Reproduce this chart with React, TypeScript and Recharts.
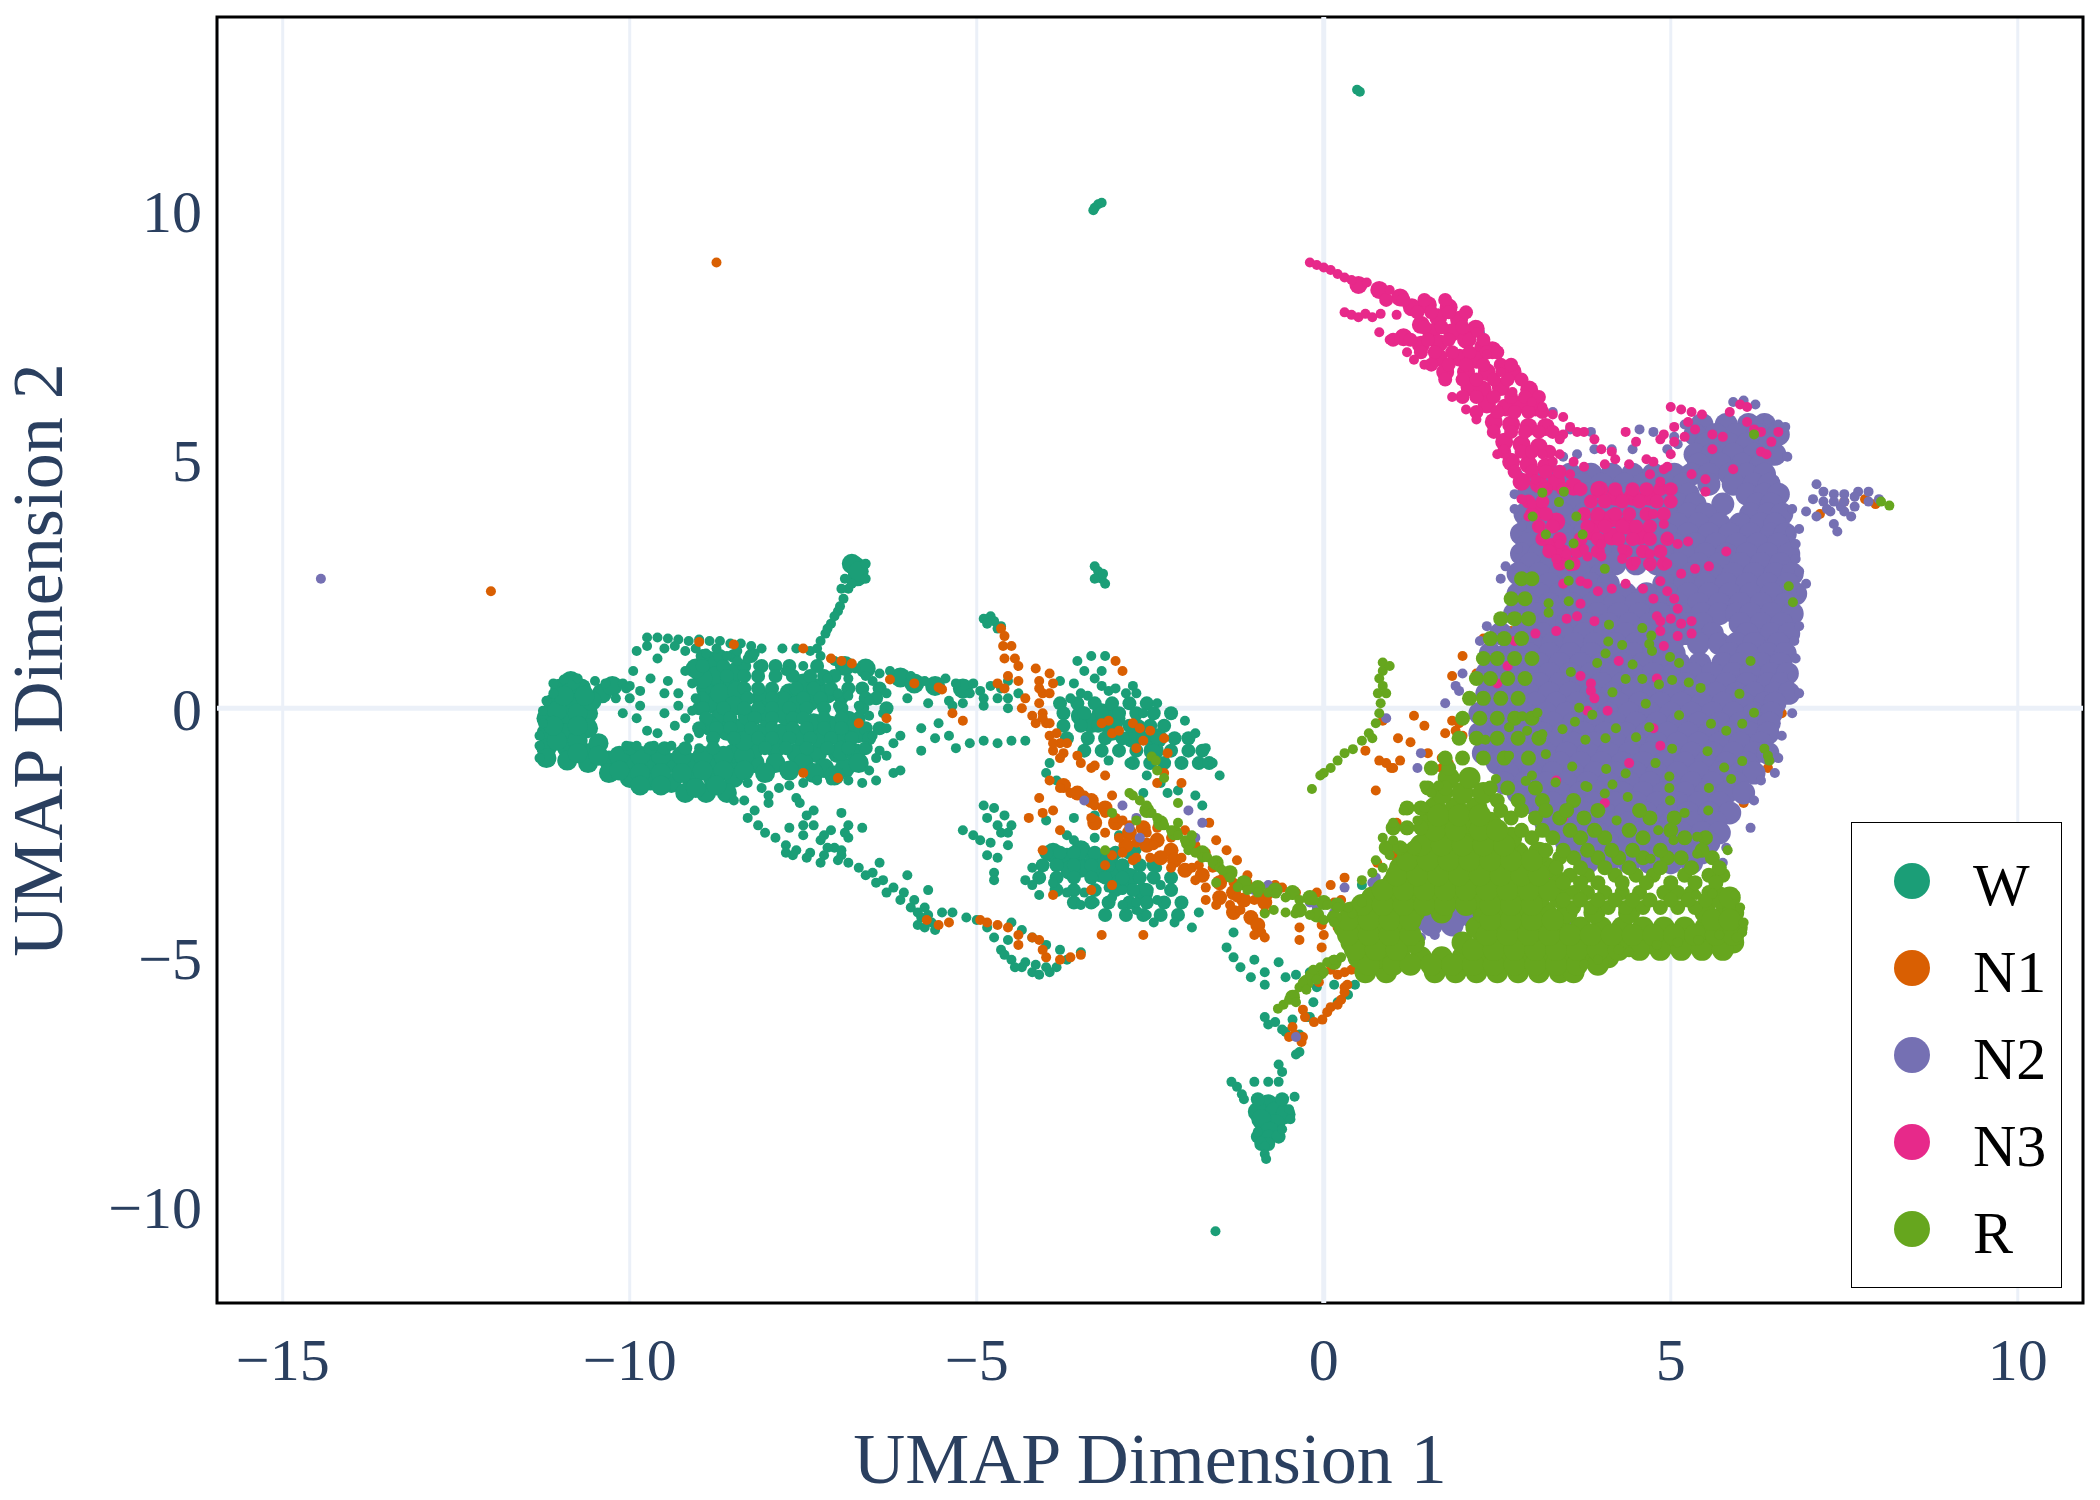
import React from 'react';
import { ScatterChart, Scatter, XAxis, YAxis, CartesianGrid, ReferenceLine, ReferenceArea } from 'recharts';

const X_TICKS = [-15, -10, -5, 0, 5, 10];
const Y_TICKS = [-10, -5, 0, 5, 10];
const STAGES = ['W', 'N1', 'N2', 'N3', 'R'];
const COLORS = ['#1b9e77', '#d95f02', '#7570b3', '#e7298a', '#66a61e'];

// Dense regions are read as clumps (drawn as wider marks), single visible dots as points.
const W_CLUMPS = [[-11,.4],[-10.7,.4],[-10.4,.3],[-11.1,.1],[-10.8,.1],[-11.2,-.2],[-10.9,-.2],[-10.6,-.1],[-11.2,-.5],[-10.9,-.5],[-10.6,-.4],[-11.2,-.8],[-10.9,-.8],[-10.6,-.9],[-11.2,-1],[-10.9,-1.05],[-10.6,-1.1],[-10.3,-1.05],[-10,-1.1],[-9.7,-1.1],[-9.4,-1.1],[-9.1,-1.1],[-8.8,-1.1],[-8.5,-1.1],[-8.2,-1.1],[-10.3,-1.3],[-10,-1.4],[-9.7,-1.45],[-9.4,-1.5],[-9.1,-1.45],[-8.8,-1.4],[-8.5,-1.4],[-9.2,-1.7],[-8.9,-1.7],[-8.6,-1.7],[-8.8,.8],[-8.7,.5],[-8.9,.4],[-8.6,.2],[-8.8,.1],[-8.7,-.2],[-8.4,-.4],[-8.1,-.5],[-8,-.2],[-7.9,.1],[-8.1,.2],[-7.8,-.5],[-8.2,-.8],[-7.9,-.8],[-7.6,-.9],[-7.3,-.9],[-7,-.9],[-6.9,-.6],[-7.5,-1.1],[-7.2,-1.2],[-6.9,-1.2],[-7.9,-1.1],[-6.7,-.5],[-7.7,.3],[-7.5,.5],[-7.3,.4],[-8.5,-.9],[-6.75,2.85],[-6.72,2.65],[-6.8,2.9],[-6.7,2.75],[-3.5,-.15],[-3.2,-.1],[-3,-.2],[-2.7,-.4],[-2.4,-.6],[-3.7,-3],[-3.5,-3.2],[-3.2,-3.3],[-3.5,-2.85],[-3.9,-2.9],[-3.1,-3],[-2.8,-3.4],[-2.6,-3.7],[-.8,-7.95],[-.95,-8.1],[-.7,-8.1],[-.55,-8.15],[-.85,-8.35],[-.7,-8.35],[-.9,-8.25],[-.78,-8.5],[-6.1,.62],[-5.9,.5],[-5.6,.45],[-5.2,.4],[-6.6,.8],[-6.9,.85],
[-11.05,-.65],[-10.75,-.65],[-10.45,-.7],[-11.05,-.05],[-10.75,-.1],[-10.55,.15],[-10.25,.45],[-10.85,.55],[-10.95,.25],[-10.65,.25],[-11.1,-.35],[-10.75,-.35],[-10.75,-.9],[-10.45,-.95],[-10.15,-.95],[-9.85,-.95],[-9.55,-.95],[-9.25,-.95],[-8.95,-.95],[-8.65,-.95],[-8.35,-.95],[-10.15,-1.25],[-9.85,-1.3],[-9.55,-1.3],[-9.25,-1.3],[-8.95,-1.25],[-8.65,-1.25],[-8.35,-1.25],[-9.05,-1.6],[-8.75,-1.55],[-9.55,-1.55],[-9.85,-1.55],[-8.85,.95],[-8.75,.65],[-8.55,.55],[-8.95,.6],[-9.05,.8],[-8.45,.75],[-8.7,.3],[-8.45,.35],[-8.5,.05],[-8.3,-.15],[-8.6,-.45],[-8.85,-.35],[-8.35,-.65],[-8.1,-.05],[-7.75,-.15],[-7.8,.15],[-7.6,.05],[-7.4,.15],[-7.15,.3],[-7.35,-.3],[-7.1,-.35],[-6.85,-.25],[-7.55,-.55],[-7.25,-.6],[-6.95,-.85],[-6.75,-.9],[-6.7,-1.1],[-7.7,-1.25],[-7.35,-1.3],[-7.05,-1.35],[-8.05,-1.3],[-3.35,-.3],[-3.05,-.45],[-2.75,-.6],[-2.45,-.85],[-3.3,-3.05],[-3.65,-3.25],[-3,-3.3],[-2.95,-3.55]];
const W_FILL_ROWS = [[1.05,-8.95,-8.7,-8.5,-8.25],[.85,-8.95,-8.65,-8.35,-8.1,-7.9,-7.7,-7.3],[.65,-8.6,-8.35,-8.15,-7.9,-7.65,-7.4,-7.2,-7.05],[.4,-8.35,-8.15,-7.95,-7.6,-7.35,-7.1,-6.85,-6.65,-6.4],[.2,-8.95,-8.3,-7.95,-7.5,-7.25,-6.95,-6.6,-6.45],[0,-9,-8.95,-8.65,-8.35,-8.15,-7.95,-7.7,-7.45,-7.2,-6.95,-6.65,-6.3],[-.2,-8.9,-8.55,-8.2,-7.95,-7.65,-7.5,-7.2,-6.95,-6.7],[-.4,-9,-8.75,-8.55,-8.25,-7.95,-7.65,-7.45,-7.2,-6.95,-6.6,-6.4],[-.6,-8.8,-8.5,-8.15,-7.95,-7.7,-7.4,-7.1,-6.8,-6.55],[-.8,-10,-9.7,-9.5,-9.2,-8.8,-8.05,-7.75,-7.45,-7.15,-6.85,-6.6],[-2.9,-4,-3.8,-3.6,-3.3,-3,-2.8],[-3.15,-4.05,-3.85,-3.6,-3.35,-3.1,-2.9,-2.65,-2.45],[-3.4,-4.1,-3.85,-3.6,-3.35,-3.15,-2.9,-2.65,-2.45,-2.2],[-3.65,-3.85,-3.6,-3.3,-3,-2.75,-2.55,-2.2],[-3.9,-3.6,-3.35,-3.1,-2.8,-2.55,-2.3,-2.05],[-4.15,-3.15,-2.85,-2.6,-2.35,-2.1],[.1,-3.8,-3.55,-3.3,-3.05,-2.8,-2.55],[-.1,-3.75,-3.45,-3.2,-2.95,-2.7,-2.45,-2.2],[-.35,-3.75,-3.5,-3.25,-3,-2.8,-2.5,-2.3],[-.6,-3.7,-3.4,-3.15,-2.9,-2.6,-2.4,-2.15,-1.95],[-.85,-3.45,-3.2,-2.95,-2.7,-2.45,-2.2,-1.95,-1.75],[-1.1,-2.75,-2.5,-2.3,-2.05,-1.8,-1.65],[-8.6,-.95,-.8,-.65],[-8.75,-.9,-.8],[-7.85,-.95,-.6]];
const W_POINTS = [[.48,12.42],[.52,12.38],[-3.3,10.05],[-3.25,10.12],[-3.2,10.15],[-3.32,10],[-1.56,-10.5],[-3.3,2.85],[-3.25,2.75],[-3.2,2.6],[-3.15,2.5],[-3.3,2.6],[-3.18,2.7],
[-11.3,-.75],[-11.3,-1],[-11.3,-.55],[-11.25,-.3],[-11.25,-.05],[-11.1,.3],[-11.2,.15],[-11.1,.5],[-10.95,.58],[-10.75,.6],[-10.5,.55],[-10.35,.5],[-10.1,.5],[-10,.45],
[-9.75,1.42],[-9.6,1.42],[-9.45,1.4],[-9.3,1.38],[-9.15,1.35],[-9,1.38],[-8.85,1.35],[-8.7,1.35],[-8.55,1.3],[-8.4,1.3],[-8.25,1.25],[-8.1,1.2],[-9.5,1.2],[-9.2,1.15],[-8.9,1.1],[-8.6,1.05],[-8.3,1],[-8.15,.85],[-9.9,1.15],[-9.6,1],[-9.95,.75],[-9.7,.6],[-9.45,.55],[-9.2,.75],[-9.1,.5],[-9.3,.3],[-9.5,.3],[-9.05,.2],[-9.75,1.25],[-9.35,1.25],[-9.05,1.2],[-8.75,1.2],[-8.45,1.15],[-8.2,1.1],[-8.45,.95],
[-7.8,1.2],[-7.6,1.2],[-7.4,1.15],[-7.25,1.05],[-7.05,.95],[-7.5,.85],[-7.75,.75],[-7.15,.6],[-6.85,.6],[-6.5,.55],[-6.3,.3],[-6,.2],[-5.7,.1],[-5.4,.15],[-5.2,.1],[-4.9,.05],[-4.7,.2],[-4.55,0],[-5.1,.3],[-4.95,.35],[-4.8,.45],[-6.55,.15],[-6.35,-.1],[-6.75,.8],[-6.6,.65],[-6.4,.7],[-6.25,.75],[-5.95,.65],[-5.75,.55],[-5.45,.6],[-5.3,.5],[-5.05,.5],[-4.9,.2],[-4.55,.2],[-4.4,.3],[-7,.3],[-7,.05],[-6.85,.25],[-6.7,.05],
[-7.3,1.2],[-7.18,1.5],[-7.1,1.7],[-7,1.95],[-6.92,2.2],[-6.85,2.4],[-6.8,2.5],[-6.6,2.9],[-6.6,2.6],[-6.9,2.6],[-6.95,2.4],[-7.25,1.35],[-7.15,1.6],[-7.05,1.85],[-6.97,2.05],
[-6.55,-.15],[-6.7,-.2],[-6.3,-.4],[-6.1,-.55],[-5.8,-.4],[-5.6,-.6],[-5.4,-.55],[-5.1,-.7],[-4.9,-.65],[-4.7,-.7],[-4.5,-.65],[-4.3,-.65],[-5.8,-.85],[-5.3,-.8],[-6.2,-.7],[-5.55,-.3],[-5.35,.05],[-6.5,-.55],[-6.4,-.85],[-6.6,-.8],
[-9.9,-.2],[-9.75,-.45],[-9.9,-.75],[-9.6,-.5],[-9.5,-.1],[-9.35,-.35],[-9.15,-.6],[-9.4,-.75],[-9.65,-.75],[-9.2,-.2],[-9,-.5],[-10.05,.4],[-10.2,.2],[-10,.2],[-9.85,.05],[-10.1,-.1],[-10.05,-.75],[-9.1,-.05],[-9.3,.05],[-9,-.8],[-9.85,.35],
[-6.45,-1],[-6.3,-.95],[-6.55,-1.25],[-6.85,-1.45],[-6.65,-1.5],[-6.45,-1.45],[-6.2,-1.3],[-6.1,-1.25],[-7.1,-1.45],[-7.3,-1.45],[-7.5,-1.5],[-7.85,-1.6],[-8.1,-1.6],[-8.3,-1.5],[-8.35,-1.85],[-8,-1.9],[-8.5,-1.85],[-8.2,-2.05],[-7.6,-1.8],[-7.7,-1.55],[-8,-1.75],
[-8.3,-2.2],[-8.15,-2.35],[-8.05,-2.5],[-7.9,-2.6],[-7.75,-2.75],[-7.6,-2.85],[-7.4,-2.9],[-7.2,-2.95],[-7,-3.05],[-7.05,-2.8],[-6.85,-3.1],[-6.7,-3.2],[-6.5,-3.3],[-6.35,-3.45],[-6.2,-3.6],[-6.05,-3.7],[-5.9,-3.85],[-5.75,-4],[-5.8,-4.2],[-5.75,-4.4],[-5.65,-4.3],[-5.5,-4.1],[-5.35,-4.1],[-5.15,-4.2],[-5,-4.25],[-4.85,-4.4],[-4.75,-4.6],[-4.65,-4.85],[-4.5,-5.05],[-4.35,-5.2],[-4.2,-5.3],[-4,-5.2],[-3.85,-5.2],[-3.7,-5.05],[-3.5,-4.9],[-4.5,-4.3],[-4.35,-4.45],[-4.2,-4.6],[-4,-4.75],[-3.8,-4.85],[-4.55,-4.65],[-6.4,-3.1],[-6,-3.35],[-6.3,-3.7],[-5.7,-3.65],[-7.65,-2.95],[-7.45,-3],[-7.25,-3.1],[-7.75,-2.9],[-7.15,-2.8],[-6.95,-2.95],[-6.6,-3.35],[-6.45,-3.5],[-6.1,-3.85],[-5.95,-4],[-5.85,-4.1],[-5.7,-4.15],[-5.85,-4.35],[-5.6,-4.45],[-4.6,-4.95],[-4.45,-5.2],[-4.3,-5.1],[-4.15,-5.15],[-3.95,-5.3],[-4.1,-5.35],
[-7.55,-1.9],[-7.45,-2.15],[-7.35,-2.35],[-7.5,-2.55],[-7.25,-2.65],[-7.1,-2.45],[-6.95,-2.1],[-6.85,-2.35],[-6.85,-2.6],[-6.95,-2.85],[-6.65,-2.4],[-7.7,-2.4],[-7.35,-2.05],[-7.5,-2.35],[-7.2,-2.55],[-6.9,-2.5],
[-4.9,-1.95],[-4.75,-2],[-4.6,-2.15],[-4.5,-2.35],[-4.65,-2.5],[-4.8,-2.7],[-4.95,-2.65],[-4.85,-2.95],[-4.7,-3],[-5.2,-2.45],[-5.05,-2.55],[-4.55,-2.75],[-4.75,-3.3],[-4.75,-3.45],[-4,-2.25],[-3.6,-2.2],[-3.3,-2.15],[-3.7,-2.55],[-4.2,-3.2],[-4.3,-3.45],[-4.2,-3.55],[-4.1,-3.75],[-3.9,-3.5],[-3.7,-3.7],[-3.45,-3.7],[-3.5,-3.95],[-3.3,-3.9],[-3.05,-3.8],[-2.9,-3.95],[-2.7,-4.05],[-2.55,-4.15],[-2.45,-4.3],[-2.15,-4.3],[-1.9,-4.4],[-2.9,-3.65],[-3.1,-3.6],[-2.4,-3.85],[-2.7,-3.9],[-2.35,-3.55],[-1.8,-4.1],[-4.85,-2.2],[-4.7,-2.35],[-4.55,-2.5],
[-3.6,-2.65],[-2.95,-2.55],[-2.7,-2.85],[-3.3,-2.6],[-2.4,-3.2],
[-4.65,.4],[-4.55,.55],[-4.8,1.85],[-4.9,1.8],[-4.75,1.75],[-4.65,1.65],[-4.85,1.7],[-4.7,1.6],[-3.55,.95],[-3.35,1.05],[-3.15,1.05],[-3.45,.75],[-3.2,.75],[-3.3,.6],[-3.8,.55],[-3.6,.5],[-3.5,.3],[-3.2,.45],[-3.65,.2],[-3.4,.25],[-3.1,.35],[-3,.4],[-2.85,.3],[-2.75,.45],[-2.7,.3],[-2.4,.1],[-2.2,-.1],[-2,-.25],[-1.85,-.5],[-1.7,-.8],[-1.6,-1.1],[-1.5,-1.35],[-2.6,-.1],[-2.3,-.35],[-3.95,-1.1],[-4,-1.3],[-3.85,-1.45],
[-1.3,-4.5],[-1.4,-4.8],[-1.3,-5],[-1.2,-5.2],[-1,-5.05],[-.85,-5.3],[-.65,-5.1],[-1.05,-5.4],[-.85,-5.55],[-.55,-5.4],[-.4,-5.35],[-.2,-5.3],[-.55,-6.5],[-.45,-6.25],[-.25,-6.2],[-.85,-6.2],[-.8,-6.35],[-.1,-5.6],[.15,-5.55],[.2,-5.9],[.35,-5.75],[.45,-5.55],[-.2,-6.2],[-.35,-6.55],[-.35,-6.9],[-.4,-6.95],[.55,-3.55],[.8,-3.7],[1.05,-3.2],[1.3,-2.9],[-.7,-6.3],[-.6,-6.45],[-.15,-5.9],
[-.65,-7.15],[-.6,-7.3],[-1.33,-7.5],[-1.25,-7.6],[-1.18,-7.75],[-1,-7.5],[-.8,-7.5],[-.65,-7.5],[-.42,-7.8],[-.5,-8.05],[-.48,-8.25],[-.95,-8.5],[-.6,-8.45],[-.9,-8.7],[-.85,-8.8],[-.85,-8.95],[-.83,-9.05],[-1.15,-7.85],
[-2.8,-1.1],[-2.55,-1.35],[-2.35,-1.5],[-2.1,-1.65],[-1.85,-1.75],[-1.75,-1.95],[-2.25,-1.7],[-3.1,-1.05],[-2.6,-1.7]];

const N1_CLUMPS = [[-3.75,-1.55],[-3.55,-1.7],[-3.35,-1.85],[-3.15,-2],[-3,-2.3],[-2.8,-2.5],[-2.6,-2.4],[-2.4,-2.65],[-2.2,-2.85],[-2.55,-2.75],[-2.85,-2.75],[-2.35,-3],[-2.15,-3.05],[-2,-3.25],[-1.75,-3.35],[-1.5,-3.5],[-1.3,-3.7],[-1.15,-3.85],[-1.5,-3.8],[-1.3,-4.1],[-1.05,-4.2],[-.95,-4.35],[-.85,-3.9],[-3.3,-2.3]];
const N1_POINTS = [[-8.75,8.95],[-12,2.35],[-9,1.33],[-8.5,1.28],[-7.5,1.2],[-7.1,1],[-6.95,.95],[-6.8,.9],[-6.25,.58],[-5.9,.5],[-5.55,.42],[-5.5,.38],[-5.35,-.1],[-5.2,-.25],[-6.3,-.2],[-6.7,-.3],[-7,-1.4],[-7.5,-1.3],
[-4.65,1.6],[-4.6,1.45],[-4.62,1.25],[-4.5,1.25],[-4.6,1],[-4.45,1],[-4.4,.85],[-4.55,.65],[-4.7,.5],[-4.6,.4],[-4.4,.55],[-4.15,.8],[-4.1,.55],[-4.05,.3],[-4.1,.1],[-4.3,.2],[-4.35,0],[-3.95,.7],[-3.9,.5],[-4.05,-.1],[-4,-.3],[-4.15,-.3],[-3.95,-.55],[-3.85,-.5],[-3.8,-.7],[-3.7,-.7],[-3.75,-.9],[-3.9,-.85],[-3.8,-1],[-3.55,-.95],[-3,.95],[-2.9,.75],[-4.05,-.2],[-4.2,-.15],[-3.95,-.3],[-4.1,.4],[-3.95,.3],[-3.9,-.7],
[-3.1,-.25],[-3.2,-.3],[-3.05,-.5],[-2.95,-.45],[-2.75,-.3],[-2.65,-.4],[-2.5,-.45],[-2.3,-.6],[-2.6,-.65],[-2.7,-.8],[-2.25,-.9],[-3.5,-1.1],[-3.35,-1.2],[-3.3,-1.15],[-3.15,-1.35],[-2.3,-1.3],[-2.05,-1.5],[-3.05,-1.75],[-2.4,-1.5],
[-3.95,-1.45],[-3.8,-1.6],[-3.65,-1.7],[-3.45,-1.75],[-3.3,-1.95],[-3.15,-2.1],[-3,-2.2],[-2.8,-2.35],[-2.55,-2.5],[-2.4,-2.4],[-3.35,-2.2],[-3.15,-2.5],[-2.95,-2.6],[-2.7,-2.7],[-2.45,-2.75],[-2.2,-2.6],[-2,-2.45],[-1.85,-2.75],[-1.7,-2.9],[-2.2,-3.2],[-2.05,-3],[-1.9,-3.2],[-2.5,-3],[-2.7,-3],[-2.9,-2.9],[-3.05,-2.95],[-1.65,-2.3],[-1.55,-2.65],[-1.4,-2.85],[-1.25,-3.05],
[-4.1,-1.8],[-4.25,-2.2],[-4.05,-2.1],[-3.9,-2.05],[-3.8,-2.45],[-4.05,-2.85],[-3.15,-3.15],[-3.9,-3.75],[-3.35,-3.65],[-3.05,-3.55],[-3.2,-4.55],[-2.9,-2.25],[-2.75,-3.05],
[-1.8,-3.15],[-1.6,-3.2],[-1.45,-3.4],[-1.3,-3.5],[-1.1,-3.5],[-1.85,-3.45],[-1.7,-3.6],[-1.25,-3.8],[-1.7,-3.85],[-1.55,-3.95],[-1.35,-3.95],[-1.2,-4.05],[-1,-3.85],[-.9,-3.75],[-.8,-3.75],[-.9,-4.5],[-.85,-4.6],[-.6,-3.6],[-.7,-3.55],[-.85,-4.1],[-1,-4.55],[-1.1,-3.35],
[-5.72,-4.25],[-5.55,-4.35],[-5.4,-4.3],[-4.95,-4.25],[-4.85,-4.3],[-4.7,-4.35],[-4.55,-4.4],[-4.4,-4.55],[-4.2,-4.6],[-4.1,-4.65],[-4.4,-4.75],[-4,-5],[-4.05,-4.85],[-3.8,-5.05],[-3.65,-5],[-3.5,-4.95],[-2.6,-4.55],
[-.1,-3.7],[.1,-3.55],[.3,-3.4],[-.4,-3.7],[.15,-3.9],[.25,-3.85],[-.35,-4.4],[-.35,-4.65],[-.03,-4.35],[0,-4.55],[-.03,-4.8],[.2,-4.4],[-.07,-5.5],[.1,-5.25],[.2,-5.35],
[-.14,-6.3],[-.02,-6.25],[.05,-6.1],[.1,-6],[.2,-5.95],[.25,-5.85],[.3,-5.7],[.3,-5.6],[.34,-5.55],[.3,-5.3],[.4,-5.25],[-.3,-6.05],[-.27,-6.2],[-.45,-6.4],[-.42,-6.55],[-.32,-6.7],[-.5,-6.6],[-.3,-6.6],[.55,-4.75],[.65,-5],[.7,-5.05],
[.85,-.25],[1.07,-.6],[1.25,-.68],[1.3,-.15],[1.5,-.9],[1.7,-1],[1.8,-1.1],[1.1,-1.05],[.9,-1.1],[1,-1.2],[.6,-.85],[.75,-1.65],[.8,-1.05],[.97,-1.2],[1.45,-.35],[1.75,-.5],[1.85,-.25],[1.75,-1.1],[1.7,-1.2],[1.9,-.45],[2,-.55],[2,1.05],[2.2,.7],[1.85,.65],[1.95,-.3],
[2.3,1.4],[2.55,1.4],[2.7,1.55],[2.45,1.1],[7.8,4.2],[7.95,4.1],[7.5,4.15],[7.15,3.9],[6.05,-1.9],[6.6,-.1],[6.4,-1.2],[6.25,-1.35],[.77,-3.1],[1,-2.95],[1.05,-2.3]];

const N2_ROWS = [[5.7,5.45,5.8,6.12,6.35],[5.5,5.35,5.65,5.95,6.25,6.55],[5.3,5.5,5.85,6.1,6.42],[5.1,5.35,5.6,5.9,6.2,6.5],[4.9,5.4,5.72,6.03,6.3],[4.7,3.25,3.55,3.85,4.15,4.45,4.75,5.05,5.3,5.55,5.85,6.1,6.35],[4.5,3.1,3.4,3.72,4,4.33,4.6,4.92,5.18,5.55,5.9,6.2,6.42],[4.3,2.95,3.2,3.5,3.8,4.05,4.35,4.65,4.95,5.25,6.1,6.35,6.55],[4.1,3,3.3,3.6,3.92,4.2,4.5,4.8,5.1,5.35,5.75,6.25,6.45],[3.9,2.9,3.15,3.45,3.75,4.05,4.35,4.65,4.95,5.25,5.5,6.15,6.4,6.6],[3.7,3,3.3,3.62,3.9,4.2,4.52,4.8,5.1,5.4,5.7,6,6.3,6.5],[3.5,2.85,3.15,3.45,3.75,4.05,4.35,4.65,4.95,5.25,5.55,5.85,6.15,6.45,6.65],[3.3,2.95,3.25,3.55,3.85,4.15,4.45,4.75,5.05,5.35,5.65,5.95,6.25,6.55],[3.1,2.85,3.1,3.4,3.7,4,4.3,4.6,4.9,5.2,5.5,5.8,6.1,6.4,6.7],[2.9,2.98,3.28,3.6,3.88,4.2,4.5,4.8,5.1,5.4,5.7,6,6.3,6.58],[2.7,2.8,3.1,3.4,3.7,4,4.95,5.3,5.6,5.9,6.2,6.5,6.75],[2.5,2.95,3.25,3.55,3.85,4.1,4.9,5.2,5.5,5.8,6.1,6.4,6.68],[2.3,2.8,3.1,3.4,3.7,4,4.35,4.65,4.95,5.25,5.55,5.85,6.15,6.45,6.8],[2.1,2.95,3.25,3.58,3.88,4.2,4.5,4.8,5.1,5.4,5.7,6,6.3,6.65],[1.9,2.75,3.05,3.35,3.65,3.95,4.25,4.55,4.85,5.15,5.45,5.7,5.95,6.15,6.45,6.75],[1.7,2.9,3.2,3.5,3.8,4.1,4.4,4.7,5,5.28,5.45,6,6.3,6.6],[1.5,2.55,2.85,3.15,3.45,3.75,4.05,4.35,4.65,4.95,5.2,5.6,6.1,6.45,6.7],[1.3,2.7,3,3.3,3.6,3.9,4.2,4.5,4.8,5.02,5.4,5.7,5.95,6.2,6.55],[1.1,2.4,2.65,2.95,3.25,3.55,3.85,4.15,4.45,4.75,5.05,5.85,6.1,6.4,6.65],[.9,2.5,2.8,3.1,3.4,3.7,4,4.3,4.6,4.9,5.12,5.42,5.75,6,6.3,6.58],[.7,2.35,2.65,2.95,3.25,3.55,3.85,4.15,4.45,4.75,5.05,5.3,5.6,5.9,6.15,6.45,6.68],[.5,2.5,2.8,3.1,3.4,3.7,4,4.3,4.6,4.9,5.2,5.5,5.8,6.1,6.4,6.6],[.3,2.35,2.65,2.95,3.25,3.55,3.85,4.15,4.45,4.75,5.05,5.35,5.65,5.95,6.2,6.5,6.7],[.1,2.5,2.75,3.05,3.35,3.65,3.95,4.25,4.55,4.85,5.15,5.45,5.75,6.05,6.35,6.5],[-.1,2.25,2.6,2.9,3.2,3.5,3.8,4.1,4.4,4.7,5,5.3,5.6,5.9,6.2,6.45],[-.3,2.4,2.7,3,3.3,3.6,3.9,4.2,4.5,4.8,5.1,5.4,5.7,6,6.25,6.42],[-.5,2.25,2.55,2.85,3.15,3.45,3.75,4.05,4.35,4.65,4.95,5.25,5.55,5.85,6.15,6.4],[-.7,2.4,2.7,3,3.3,3.6,3.9,4.2,4.5,4.8,5.1,5.4,5.7,6,6.3],[-.9,2.3,2.6,2.9,3.2,3.5,3.8,4.1,4.4,4.7,5,5.3,5.6,5.9,6.2,6.4],[-1.1,2.5,2.8,3.1,3.4,3.7,4,4.3,4.6,4.9,5.2,5.5,5.8,6.1],[-1.3,2.65,3,3.3,3.6,3.9,4.2,4.5,4.8,5.1,5.4,5.7,6,6.2],[-1.5,2.6,2.9,3.2,3.5,3.8,4.1,4.4,4.7,5,5.3,5.6,5.95],[-1.7,2.8,3.1,3.4,3.7,4,4.3,4.6,4.9,5.2,5.5,5.8,6.05],[-1.9,3,3.3,3.6,3.9,4.2,4.5,4.8,5.1,5.4,5.7],[-2.1,3.15,3.45,3.75,4.05,4.35,4.65,4.95,5.25,5.55,5.85],[-2.3,3.2,3.5,3.8,4.1,4.4,4.7,5,5.3,5.65],[-2.5,3.35,3.65,3.95,4.25,4.55,4.85,5.15,5.45,5.7],[-2.7,3.5,3.8,4.1,4.4,4.7,5,5.3,5.55],[-2.9,3.65,3.95,4.25,4.55,4.85,5.15,5.45],[-3.1,3.8,4.1,4.4,4.7,5,5.3],[-3.9,1.6,1.9],[-4.2,1.6,1.9,2.15],[-4.35,.95,1.25,1.55,1.85]];
const N2_POINTS = [[-14.45,2.6],[5.9,6.15],[6.05,6.18],[6.22,6.1],[6.4,5.8],[6.55,5.7],[6.65,5.65],[6.55,5.35],[6.68,5.05],[5.2,5.7],[5.05,5.45],[5.1,5.3],[4.95,5.2],[4.55,5.6],[4.75,5.55],[4.45,5.2],[4.15,5.2],[3.85,5.55],[3.9,5.2],[3.65,5.1],[3.45,5.05],[3.55,5.6],[3.3,5.95],[2.3,7.4],[2.25,7.55],[2.9,4.9],[2.8,4.7],[2.75,4.3],[2.75,4],[2.85,3.65],[2.8,3.2],[2.62,2.85],[2.55,2.6],[2.7,2.2],[2.35,1.65],[2.25,1.35],[2,.7],[1.9,.45],[1.95,.35],[1.75,.1],[.9,-.2],[1.4,-.9],[1.35,-1.2],
[6.75,4],[6.72,3.55],[6.8,3.3],[6.8,3],[6.85,2.75],[6.95,2.5],[6.88,2.35],[6.85,1.65],[6.78,1.35],[6.8,1],[6.75,.65],[6.85,.3],[6.75,-.1],[6.6,-.55],[6.55,-1],[6.5,-1.3],[6.3,-1.45],[6.2,-1.85],[6.15,-2.4],[5.8,-2.8],[5.75,-3.1],
[7.1,4.5],[7.2,4.35],[7.35,4.3],[7.5,4.3],[7.7,4.35],[7.85,4.35],[8,4.2],[7.05,4.2],[7.25,4],[7.45,4.05],[7.65,4.05],[7.85,4.15],[6.95,3.95],[7.1,3.85],[7.35,3.7],[7.4,3.55],[7.6,3.85],[7.3,3.95],[7.65,4.25],[6.85,3.6],[7.2,4.15],[7.5,3.95],[7.5,4.15],[7.35,4.15],
[-.1,-4],[.3,-3.6],[.7,-3.5],[.75,-3.4],[-.8,-3.55],[-1,-3.65],[-2.9,-1.95],[-2.7,-2.2],[-2.5,-2.1],[-2.65,-2.6],[-2.8,-2.4],[-3.45,-1.85],[-1.85,-2.6],[-1.75,-2.3],[-1.95,-2.05],[-.4,-6.6],[-.45,-3.7],[-.2,-3.9],
[2.05,-3.5],[2.3,-4.6],[.15,-4.1],[1.3,-3.85],[1.6,-4.55],[1.1,-4.55],[1.4,-4.6],[2.5,-4.3],[2.85,-4],[3.1,-4.4],[3.6,-4.3],[3.95,-4.5]];

const N3_CLUMPS = [[.5,8.5],[.8,8.4],[1.1,8.25],[1.27,8.05],[1.5,8.1],[1.8,8.05],[1.65,7.85],[1.95,7.8],[2.19,7.62],[1.4,7.7],[1.55,7.55],[1.85,7.55],[2.05,7.4],[1.15,7.45],[1.4,7.3],[1.66,7.33],[2.3,7.25],[1.65,7.05],[1.96,7.04],[2.2,7],[2.43,7.19],[1.75,6.75],[2.05,6.75],[2.35,6.75],[2.72,6.76],[2.1,6.45],[2.29,6.4],[2.55,6.45],[2.96,6.4],[2.35,6.1],[2.62,6.04],[2.85,6.1],[3.05,6.04],[2.45,5.75],[2.7,5.7],[2.95,5.65],[3.2,5.65],[2.6,5.35],[2.85,5.3],[3.1,5.25],[2.7,4.95],[2.95,4.9],[3.2,4.85],[2.85,4.55],[3.1,4.5],[3.35,4.55],[3.6,4.45],[3.97,4.39],[4.2,4.25],[4.45,4.25],[4.69,4.25],[3.1,3.96],[3.35,3.75],[3.97,3.82],[4.16,3.82],[4.35,3.67],[4.55,3.46],[3.85,3.55],[4.15,3.45],[3.29,3.24],[3.44,3.03]];
const N3_FILL_ROWS = [[4.4,3.2,3.45,3.7,3.95,4.2,4.45,4.65,4.85,5],[4.15,2.95,3.15,3.85,4.05,4.3,4.55,4.8,5],[3.9,3,3.2,3.75,3.95,4.2,4.4,4.65,4.9],[3.65,3.1,3.3,3.8,4.05,4.3,4.5,4.7],[3.4,3.15,3.4,3.7,3.95,4.25,4.45,4.7,4.95],[3.15,3.25,3.45,3.65,3.95,4.35,4.6,4.85],[2.9,3.4,3.6,4.45,4.7,4.9],[8.2,.9,1.15,1.45,1.75],[7.95,1.35,1.55,1.8,2.05],[7.65,1.45,1.7,2,2.2],[7.4,1,1.25,1.5,1.8,2.1,2.3],[7.15,1.4,1.6,1.85,2.1,2.35,2.5],[6.9,1.55,1.8,2.05,2.3,2.55,2.7],[6.6,1.75,2,2.2,2.45,2.65,2.85],[6.25,2,2.2,2.45,2.7,2.9,3.1],[5.95,2.2,2.5,2.75,2.95,3.15],[5.55,2.45,2.7,2.9,3.1,3.3],[5.15,2.6,2.85,3,3.25],[4.75,2.75,3,3.2,3.4]];
const N3_POINTS = [[-.2,8.95],[-.1,8.9],[0,8.85],[.1,8.8],[.2,8.72],[.3,8.65],[.4,8.6],[.62,8.55],[.95,8.4],[.3,7.95],[.4,7.9],[.5,7.85],[.6,7.92],[.7,7.85],[.82,7.92],[1.05,7.9],[.95,7.4],[.8,7.55],[1.2,7.15],[1.3,7],[1.45,6.9],[2.2,7.55],[2.35,7.1],[2.55,6.75],[2.72,6.35],[3,6.15],[3.15,6.05],[3.3,5.9],[3.45,5.85],[3.45,5.5],[3.55,5.65],[3.65,5.55],[3.4,5.4],[1.85,6.25],[2.05,6],[2.2,5.8],[2.45,5.6],[2.6,5.2],[2.5,5.1],[3.4,5.1],[3.6,4.95],[3.75,4.85],[3.15,5.1],[3.05,4.6],
[3.75,5.55],[3.9,5.4],[4,5.2],[4.15,5.15],[4.2,5],[4.35,5.55],[4.05,4.9],[4.4,4.9],[4.65,5],[4.75,4.95],[4.9,4.8],[4.5,5.35],[4.85,5.4],[4.9,5.5],[5.05,5.35],[5,5.1],[4.95,4.85],[5,6.05],[5.15,6],[5.3,5.95],[5.45,5.9],[5.25,5.75],[5.35,5.6],[5.05,5.65],[5.2,5.45],[6,6.1],[6.1,6.05],[6.1,5.75],[6.2,5.6],[6.3,5.55],[6.45,5.35],[5.85,5.95],[6.55,5.55],[6.3,5.15],[6.38,5.1],[5.6,5.5],[5.6,5.2],[5.3,4.7],[5.5,4.6],[5.75,5.45],[5.9,4.8],[5.5,4.35],
[2.85,4.2],[3,4.1],[2.95,3.85],[3.1,3.65],[3.15,3.45],[3.4,3.3],[3.5,3.1],[3.35,3],[3.55,2.85],[3.7,2.55],[3.45,2.5],[3.8,3.05],[4,3.05],[4.3,3],[4.5,2.95],[4.7,2.85],[4.95,2.9],[4.85,2.55],[4.95,3.45],[5.25,3.35],[5.8,3.15],[5.55,2.85],[5.35,2.8],[5.15,2.7],[5.1,3.3],[3.8,2.5],[3.95,2.35],[4.15,2.4],[4.35,2.5],[4.6,2.4],[4.75,2.2],[4.95,2.35],[5.05,2.2],[5.1,2],[4.8,1.85],[4.85,1.75],[5,1.8],[5.15,1.7],[5.3,1.75],[5.3,1.5],[5.1,1.45],[4.85,1.55],[3.7,2.1],[3.65,1.85],[3.5,1.8],[3.35,1.55],[3.9,1.75],[3.05,1.5],[2.75,1.35],[4.9,1.25],[2.65,.85],[2.5,.5],[2.4,.55],[3.7,.65],[3.85,.5],[4.25,.95],[4.8,.6],[3.85,.35],[3.9,.2],[3.8,-.05],[4.09,-.05],[4.75,-.4],[4.85,-.75],[4.4,-1.1],[2.55,-4.4],[3.35,-1.45],[4.05,-1.9],[3.45,-2.2],[3.25,-3.4],[4.7,4.7],[4.85,4.55],[5,4.4],[4.75,3.9],[4.9,3.7],[3.75,3.2],[4,3.3],[4.3,3.2],[4.7,3.1],[3.3,4.95],[3.55,4.7]];

const R_ROWS = [[-5.3,.6,.9,1.6,1.9,2.2,2.5,2.8,3.1,3.4,3.6],[-5,.5,.8,1.1,1.4,1.7,2,2.3,2.6,2.9,3.2,3.5,3.8,4.1],[-4.7,.4,.7,1,1.3,2,2.3,2.6,2.9,3.2,3.5,3.8,4.1,4.4,4.7,5,5.3,5.6,5.9],[-4.4,.3,.6,.9,1.2,2.2,2.5,2.8,3.1,3.4,3.7,4,4.3,4.6,4.9,5.2,5.5,5.8,5.95],[-4.1,.4,.7,1,1.3,1.7,2.3,2.6,2.9,3.2,3.5,3.9,4.4,5.5,5.8,5.9],[-3.8,.7,1,1.3,1.6,1.9,2.2,2.5,2.8,3.1,3.4,5.7,5.85],[-3.5,1,1.3,1.6,1.9,2.2,2.5,2.8,3.1,3.4],[-3.2,1.1,1.4,1.7,2,2.3,2.6,2.9,3.2],[-2.9,1.3,1.6,1.9,2.2,2.5,2.8,3.1],[-2.6,1.5,1.8,2.1,2.4,2.7],[-2.3,1.5,1.8,2.1,2.4],[-2,1.6,1.9,2.2],[-1.7,1.7,2,2.3],[-1.4,1.8,2.1],
[-5.15,.65,1,1.25,1.55,1.85,2.15,2.45,2.75,3.05,3.35,3.65,3.95],[-4.85,.45,.75,1.05,2.15,2.45,2.75,3.05,3.35,3.65,3.95,4.25,4.55,4.85,5.15,5.45,5.75],[-4.55,.35,.65,.95,1.25,2.35,2.65,2.95,3.25,3.55,3.85,4.15,4.45,4.75,5.05,5.35,5.65,5.9],[-4.25,.35,.65,.95,1.25,2.4,2.7,3,3.3,5.6,5.85],[-3.95,.55,.85,1.15,1.45,1.75,2.05,2.4,2.7,3],[-3.65,.85,1.15,1.45,1.75,2.05,2.35,2.65,2.95,3.25],[-3.35,1.05,1.35,1.65,1.95,2.25,2.55,2.85,3.1],[-3.05,1.2,1.5,1.8,2.1,2.4,2.7,3],[-2.75,1.4,1.7,2,2.3,2.6],[-2.45,1.6,1.9,2.25,2.5],[-2.15,1.65,1.95,2.25]];
const R_FILL_ROWS = [[-4,3.6,3.85,4.1,4.35,4.6,4.85,5.1,5.35],[-3.7,3.6,3.8,4.05,4.3,4.55,4.9,5.1,5.3,5.55],[-3.35,3.55,3.8,4.2,4.5,4.75,5.2,5.55,5.75],[-3,3.4,3.6,3.95,4.25,4.6,4.95,5.15,5.6],[-2.6,3,3.3,3.7,4.05,4.6,5.2,5.5],[-2.2,2.7,3.05,3.4,3.75,4.7,5.05],[-1.85,2.5,2.8,3.15,3.6],[-1.2,1.55,1.8],[-3.85,3.45,3.7,3.95,4.2,4.45,4.7,5,5.25,5.5],[-3.5,3.45,3.7,3.95,4.3,4.65,5,5.35,5.65],[-3.2,3.35,3.7,4.05,4.4,4.85,5.3,5.7],[-2.85,3.2,3.45,3.8,4.15,4.45,4.85,5.45],[-2.45,2.85,3.15,3.55,3.9,4.4,5],[-2.05,2.55,2.85,3.2,3.5,3.95,4.55],[-1.6,1.5,1.75,2.4,2.65,3.05],[-1,1.75,2,2.3,2.6,2.95],[-.6,1.95,2.2,2.5,2.8,3.1],[-.2,2,2.25,2.5,2.75,3],[.2,2.1,2.3,2.55,2.8],[.6,2.2,2.4,2.65,2.9],[1,2.3,2.5,2.75,3],[1.4,2.4,2.6,2.85],[1.8,2.55,2.75,2.95],[2.2,2.7,2.9],[2.6,2.85,3],[-2.8,.9,1.1,1.3],[-2.4,1,1.2,1.4],[-2,1.2,1.4],
[-2.05,-2.55],[-2.3,-2.35],[-2.5,-2.15],[-2.7,-1.95],[-2.9,-1.75],[-3.1,-1.55],[-3.3,-1.35],[-3.5,-1.15],[-3.6,-.95],[-3.65,-.7],[-3.7,-.45],[-3.8,-.2],[-3.9,0],[-3.95,.2],[-4.2,.15],[-4.15,-.1],[-4.05,-.35],[-5.8,-.45],[-5.5,-.25],[-5.3,-.05],[-5.1,.15]];
const R_POINTS = [[3.15,4.33],[3.46,4.35],[3.39,4.14],[3.01,3.85],[3.64,3.85],[3.2,3.49],[3.73,3.49],[3.6,3.31],[3.54,2.88],[4.05,2.8],[3.53,2.56],[3.24,2.11],[3.53,2.15],[3.24,1.92],[4.11,1.68],[4.59,1.61],[4.72,1.46],[4.1,1.34],[4.69,1.29],[4.3,1.27],[4.06,1.1],[4.73,1.15],[4.99,1.03],[6.15,.95],[6.7,2.45],[6.76,2.13],[6.2,5.5],[8.03,4.15],[8.15,4.07],[5.12,.91],[4.45,.88],[3.94,.91],[3.56,.73],[4.35,.59],[4.59,.59],[5.02,.57],[5.26,.52],[5.43,.41],[5.99,.29],[4.83,.48],[4.16,.32],[4.64,.09],[6.2,-.09],[5.12,-.14],[5.58,-.31],[6.03,-.31],[5.8,-.45],[4.69,-.38],[4.21,-.4],[4.5,-.58],[4.06,-.6],[5.02,-.81],[5.53,-.86],[6.35,-.81],[6.4,-.95],[6.42,-1.05],[6.03,-1.06],[5.77,-1.19],[4.78,-1.1],[4.07,-1.22],[4.35,-1.31],[4.98,-1.37],[5.87,-1.42],[5.55,-1.6],[4.98,-1.6],
[2.86,-.16],[3.08,-.09],[3.68,.01],[3.87,-.13],[3.62,-.27],[3.44,-.42],[3.15,-.52],[3.77,-.63],[2.93,-.45],[2.67,-.38],[2.33,-.63],[3.2,-.92],[2.67,-.95],[3,-1.35],[3.58,-1.17],[3.34,-1.49],[2.91,-1.46],[2.48,-1.42],[3.77,-1.56],[4.16,-1.53],[4.99,-1.85],[5.2,-2.1],[5.54,-2.05],[5.38,-2.58],[5.04,-2.65],[4.82,-2.45],[4.44,-2.45],[4.22,-2.25],[3.94,-2.45],[4.71,-3.02],[5.38,-2.92],[5.82,-2.85],[4.05,-1.71],[4.38,-1.78],[3.8,-1.58],
[.85,.92],[.85,.75],[.8,.6],[.85,.45],[.78,.3],[.82,.1],[.8,-.1],[.75,-.3],[.65,-.5],[.55,-.65],[.42,-.82],[.3,-.9],[.2,-1.05],[.1,-1.2],[0,-1.3],[-.05,-1.35],[-.17,-1.62],[.9,.3],[.7,-.6],[.95,.85],
[-2.48,-.97],[-2.42,-1.05],[-2.4,-1.25],[-2.3,-1.4],[-2.1,-1.9],[-2.8,-1.7],[-2.75,-1.75],[-2.65,-1.85],[-2.55,-1.95],[-2.48,-2.1],[-2.4,-2.2],[-2.3,-2.35],[-2.2,-2.45],[-2.1,-2.55],[-2,-2.65],[-1.95,-2.85],[-1.85,-2.9],[-1.75,-3],[-1.68,-2.99],[-1.6,-3.1],[-1.5,-3.2],[-1.46,-3.25],[-1.35,-3.4],[-1.24,-3.59],[-1.1,-3.65],[-.95,-3.7],[-.8,-3.7],[-.69,-3.72],[-.55,-3.8],[-.35,-3.85],[-.14,-3.86],[.05,-3.95],[.2,-4],[.41,-4.12],[-.85,-4.12],[-.72,-4.05],[-.41,-4.12],[-.55,-4.1],[-.2,-4.15],[0,-4.25],[.15,-4.3],[-2.1,-2.3],[-1.9,-2.55],[-3.05,-2.1],[-3.15,-2.85],[-2.7,-2.25],[-1.55,-3.5],
[-.66,-6.03],[-.58,-5.95],[-.5,-5.85],[-.42,-5.75],[-.35,-5.6],[-.3,-5.5],[-.2,-5.35],[-.15,-5.25],[-.05,-5.2],[.05,-5.1],[.15,-5.05],[.25,-5],[-.4,-5.9],[-.25,-5.65],[-.1,-5.45],[0,-5.3],
[1.15,-2.05],[1,-2.3],[.85,-2.6],[1,-2.65],[1.15,-2.8],[1.2,-2.45],[1.35,-2.25],[1.45,-2],[1.55,-1.7],[.75,-3.05],[.7,-3.3],[.55,-3.45],[.85,-3.2],[.95,-2.95],[1.45,-1.55],[1.65,-1.55],[.35,-4],[.55,-3.9],
[5.37,-3.75],[5.6,-3.72],[5.93,-3.75],[6,-4],[6.05,-4.3],[6.03,-4.5],[5.95,-4.6],[5.7,-4.55],[5.4,-4.65],[5.1,-4.7],[4.8,-4.75],[4.4,-4.9],[4.25,-4.85],[3.95,-5.05],[3.75,-5.15]];

const rowsToPoints = (rows: number[][]) => rows.flatMap(([y, ...xs]) => xs.map((x) => ({ x, y })));
const pairsToPoints = (pairs: number[][]) => pairs.map(([x, y]) => ({ x, y }));

const LAYERS = [
  { color: COLORS[0], radius: 10, data: pairsToPoints(W_CLUMPS) },
  { color: COLORS[0], radius: 7, data: rowsToPoints(W_FILL_ROWS) },
  { color: COLORS[0], radius: 5, data: pairsToPoints(W_POINTS) },
  { color: COLORS[1], radius: 7.5, data: pairsToPoints(N1_CLUMPS) },
  { color: COLORS[1], radius: 5, data: pairsToPoints(N1_POINTS) },
  { color: COLORS[2], radius: 11.5, data: rowsToPoints(N2_ROWS) },
  { color: COLORS[2], radius: 5, data: pairsToPoints(N2_POINTS) },
  { color: COLORS[3], radius: 9, data: pairsToPoints(N3_CLUMPS) },
  { color: COLORS[3], radius: 7, data: rowsToPoints(N3_FILL_ROWS) },
  { color: COLORS[3], radius: 5, data: pairsToPoints(N3_POINTS) },
  { color: COLORS[4], radius: 11, data: rowsToPoints(R_ROWS) },
  { color: COLORS[4], radius: 7.5, data: rowsToPoints(R_FILL_ROWS) },
  { color: COLORS[4], radius: 5, data: pairsToPoints(R_POINTS) },
];

const INK = '#2a3f5f';
const FONT = '"Liberation Serif", serif';
const fmt = (v: number) => String(v).replace('-', '\u2212');

function StageLegend() {
  return (
    <div style={{ position: 'absolute', left: 1851, top: 822, width: 211, height: 466, boxSizing: 'border-box', border: '1.5px solid #000', background: '#fff' }}>
      {STAGES.map((s, i) => (
        <div key={s}>
          <div style={{ position: 'absolute', left: 42, top: 40 + i * 87, width: 36, height: 36, borderRadius: 18, background: COLORS[i] }} />
          <div style={{ position: 'absolute', left: 121, top: 28 + i * 87, fontFamily: FONT, fontSize: 60, lineHeight: '69px', color: '#000' }}>{s}</div>
        </div>
      ))}
    </div>
  );
}

export default function App() {
  return (
    <div style={{ position: 'absolute', left: 0, top: 0, width: 2100, height: 1500, background: '#fff' }}>
      <ScatterChart width={2100} height={1500} margin={{ top: 17, right: 17, bottom: 0, left: 0 }}>
        <CartesianGrid stroke="#EBF0F8" strokeWidth={3} horizontal={false} />
        <ReferenceLine x={0} stroke="#EBF0F8" strokeWidth={5} />
        <ReferenceLine y={0} stroke="#EBF0F8" strokeWidth={5} />
        <XAxis
          type="number" dataKey="x" domain={[-15.947, 10.94]} ticks={X_TICKS} allowDataOverflow
          height={197} axisLine={false} tickLine={false} tickSize={0} tickMargin={34} tickFormatter={fmt}
          tick={{ fontFamily: FONT, fontSize: 60, fill: INK }}
          label={{ value: 'UMAP Dimension 1', position: 'insideBottom', offset: 17, fontFamily: FONT, fontSize: 72, fill: INK }}
        />
        <YAxis
          type="number" dataKey="y" domain={[-11.94, 13.88]} ticks={Y_TICKS} allowDataOverflow
          width={217} axisLine={false} tickLine={false} tickSize={0} tickMargin={15} tickFormatter={fmt}
          tick={{ fontFamily: FONT, fontSize: 60, fill: INK }}
          label={{ value: 'UMAP Dimension 2', angle: -90, position: 'insideLeft', offset: 36, fontFamily: FONT, fontSize: 72, fill: INK, style: { textAnchor: 'middle' } }}
        />
        {LAYERS.map((l, i) => (
          <Scatter
            key={i} data={l.data} isAnimationActive={false} fill={l.color} legendType="none"
            shape={(p: any) => <circle cx={p.cx} cy={p.cy} r={l.radius} fill={l.color} />}
          />
        ))}
        <ReferenceArea x1={-15.947} x2={10.94} y1={-11.94} y2={13.88} fill="none" stroke="#000" strokeWidth={3} />
      </ScatterChart>
      <StageLegend />
    </div>
  );
}
